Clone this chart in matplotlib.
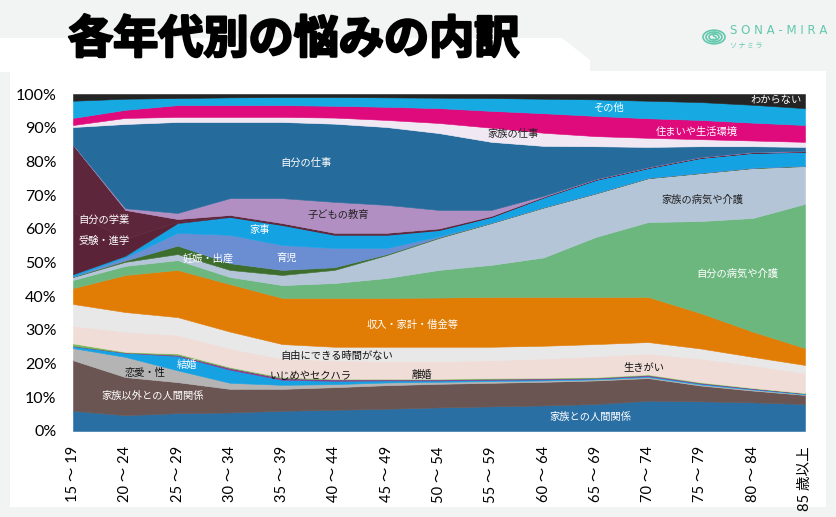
import matplotlib
matplotlib.use("Agg")
import matplotlib.pyplot as plt
from matplotlib.patches import Rectangle, Polygon, Circle
import matplotlib.patheffects as pe
import numpy as np

# ---------------- data (percent of respondents, by age group) ----------------
ages = ["15 ～ 19", "20 ～ 24", "25 ～ 29", "30 ～ 34", "35 ～ 39", "40 ～ 44", "45 ～ 49",
        "50 ～ 54", "55 ～ 59", "60 ～ 64", "65 ～ 69", "70 ～ 74", "75 ～ 79", "80 ～ 84", "85 歳以上"]

family_rel     = [6.0, 4.7, 5.3, 5.5, 6.0, 6.3, 6.6, 7.0, 7.3, 7.6, 8.0, 9.0, 8.8, 8.5, 8.0]
other_rel      = [15.0, 11.3, 9.2, 7.0, 6.5, 6.7, 7.0, 7.0, 7.0, 7.0, 7.0, 6.7, 4.7, 3.5, 2.7]
love           = [3.6, 6.0, 3.5, 1.8, 1.2, 0.9, 0.8, 0.6, 0.5, 0.4, 0.3, 0.3, 0.3, 0.3, 0.2]
marriage       = [0.6, 1.2, 4.3, 3.9, 1.5, 1.0, 0.6, 0.4, 0.4, 0.3, 0.3, 0.3, 0.3, 0.2, 0.2]
divorce        = [0.1, 0.1, 0.3, 0.5, 0.5, 0.4, 0.3, 0.3, 0.3, 0.3, 0.2, 0.3, 0.2, 0.2, 0.1]
bullying       = [0.7, 0.2, 0.4, 0.3, 0.3, 0.2, 0.2, 0.2, 0.2, 0.2, 0.2, 0.2, 0.2, 0.1, 0.1]
purpose        = [5.2, 6.0, 5.5, 5.5, 5.5, 5.5, 5.2, 5.2, 5.3, 5.7, 6.2, 6.2, 7.0, 6.7, 5.9]
no_time        = [6.5, 5.8, 5.3, 5.0, 4.3, 4.0, 4.3, 4.3, 4.0, 3.8, 3.6, 3.4, 3.0, 2.5, 2.4]
income         = [4.7, 11.0, 14.0, 14.1, 13.7, 14.5, 14.5, 14.6, 14.8, 14.5, 14.0, 13.4, 10.5, 7.5, 5.0]
own_health     = [2.4, 2.7, 2.9, 2.1, 3.8, 4.4, 5.9, 8.2, 9.5, 11.7, 17.8, 22.2, 27.3, 33.7, 42.8]
family_health  = [0.9, 1.2, 1.8, 2.1, 3.0, 3.9, 6.8, 9.5, 12.4, 14.8, 12.9, 13.0, 14.2, 14.8, 11.2]
pregnancy      = [0.1, 0.4, 2.5, 2.0, 1.5, 0.8, 0.3, 0.2, 0.1, 0.1, 0.1, 0.1, 0.1, 0.1, 0.1]
childcare      = [0.1, 0.9, 3.8, 8.4, 7.4, 5.7, 1.8, 0.3, 0.1, 0.1, 0.1, 0.1, 0.1, 0.1, 0.1]
housework      = [0.6, 0.5, 2.9, 5.3, 5.9, 3.9, 3.9, 1.8, 1.6, 2.8, 3.8, 2.8, 4.3, 4.3, 4.0]
exams          = [18.5, 5.0, 0.4, 0.2, 0.2, 0.2, 0.2, 0.2, 0.1, 0.1, 0.1, 0.1, 0.1, 0.1, 0.1]
study          = [19.9, 8.6, 0.8, 0.4, 0.4, 0.4, 0.4, 0.3, 0.2, 0.1, 0.1, 0.1, 0.1, 0.1, 0.1]
child_edu      = [0.1, 0.5, 1.8, 5.0, 7.4, 9.2, 8.3, 5.5, 1.8, 0.3, 0.1, 0.1, 0.1, 0.1, 0.1]
own_work       = [5.2, 25.0, 27.0, 22.6, 22.6, 23.2, 23.1, 22.8, 20.2, 14.8, 9.7, 6.0, 3.2, 1.7, 1.2]
family_work    = [0.6, 1.8, 1.5, 1.5, 1.5, 1.8, 2.1, 3.0, 4.2, 3.9, 3.0, 2.7, 2.1, 1.7, 1.5]
housing        = [2.1, 2.4, 3.5, 3.5, 3.5, 3.5, 3.9, 4.4, 5.0, 5.8, 6.0, 5.8, 5.7, 5.3, 5.0]
other          = [5.1, 3.3, 2.1, 2.3, 2.4, 2.6, 2.8, 3.1, 3.8, 4.3, 4.9, 5.2, 5.3, 5.3, 5.0]
unknown        = [2.0, 1.4, 1.2, 1.0, 0.9, 0.9, 1.0, 1.1, 1.2, 1.4, 1.6, 2.0, 2.4, 3.2, 4.2]

series = [family_rel, other_rel, love, marriage, divorce, bullying, purpose, no_time, income,
          own_health, family_health, pregnancy, childcare, housework, exams, study, child_edu,
          own_work, family_work, housing, other, unknown]

# ---------------- styles ----------------
colors = ["#2a6fa4", "#6a5552", "#b4b4b4", "#16a1e2", "#8b3a8e", "#79bd5a", "#f1ddd7", "#e8e8e8",
          "#e17c05", "#6cb77e", "#b5c5d8", "#3e6e2e", "#6b8ed2", "#15a2e2", "#5a2338", "#5d263b",
          "#b18fc2", "#256c9c", "#f0e9f4", "#df0a7c", "#17a9e1", "#242424"]

W, H = 836, 517
CJK = ["Noto Sans CJK JP", "DejaVu Sans"]

fig = plt.figure(figsize=(W / 100, H / 100), dpi=100)
fig.patch.set_facecolor("#f2f3f3")

def fx(px):
    return px / W

def fy(py):
    return 1 - py / H

# white title banner and white panel
fig.add_artist(Polygon([(fx(0), fy(38)), (fx(562), fy(38)), (fx(590), fy(60)), (fx(590), fy(72)),
                        (fx(0), fy(72))], closed=True, transform=fig.transFigure,
                       facecolor="white", edgecolor="none", zorder=0))
fig.add_artist(Rectangle((fx(10), fy(507)), fx(826) - fx(10), fy(71) - fy(507),
                         transform=fig.transFigure, facecolor="white", edgecolor="none", zorder=0))

# title
fig.text(fx(68), fy(40), "各年代別の悩みの内訳", fontsize=32.5, fontweight="bold", family=CJK,
         color="black", va="center", ha="left",
         path_effects=[pe.withStroke(linewidth=1.8, foreground="black")])

# logo
teal = "#62c8ad"
for r in (11, 8, 5):
    fig.add_artist(Circle((fx(714), fy(37)), r / W, transform=fig.transFigure, facecolor="none",
                          edgecolor=teal, linewidth=1.2))
fig.text(fx(714), fy(38), "S", fontsize=5.5, color=teal, ha="center", va="center", fontweight="bold")
fig.text(fx(730), fy(31), "S O N A - M I R A", fontsize=8.5, color=teal, ha="left", va="center",
         family="DejaVu Sans")
fig.text(fx(730), fy(46), "ソ ナ ミ ラ", fontsize=5, color=teal, ha="left", va="center", family=CJK)

# axes
ax = fig.add_axes([fx(73), fy(431), fx(805) - fx(73), fy(94) - fy(431)])
x = np.arange(len(ages))
polys = ax.stackplot(x, *series, colors=colors)
for p, c in zip(polys, colors):
    p.set_edgecolor(c)
    p.set_linewidth(0.4)

ax.set_xlim(0, len(ages) - 1)
ax.set_ylim(0, 100)
for s in ax.spines.values():
    s.set_visible(False)
ax.set_facecolor("white")
ax.set_yticks(range(0, 101, 10))
ax.set_yticklabels([f"{v}%" for v in range(0, 101, 10)], fontsize=11.5, family=["Lato", "DejaVu Sans"])
ax.set_xticks(x)
ax.set_xticklabels(ages, rotation=90, fontsize=10.5, family=["Lato", "Noto Sans CJK JP"])
ax.tick_params(axis="y", length=0, pad=12)
ax.tick_params(axis="x", length=0, pad=11)
for lab in ax.get_xticklabels():
    lab.set_va("top")

# in-chart labels: (text, x, y, color, ha)
labels = [
    ("わからない", 13.45, 98.2, "white", "center"),
    ("その他", 10.25, 95.8, "white", "center"),
    ("住まいや生活環境", 11.93, 88.7, "white", "center"),
    ("家族の仕事", 8.41, 88.1, "#222222", "center"),
    ("自分の仕事", 4.46, 79.5, "white", "center"),
    ("家族の病気や介護", 12.03, 68.5, "#222222", "center"),
    ("子どもの教育", 5.07, 64.1, "#222222", "center"),
    ("自分の学業", 0.1, 62.6, "white", "left"),
    ("受験・進学", 0.1, 56.4, "white", "left"),
    ("家事", 3.58, 59.6, "white", "center"),
    ("妊娠・出産", 2.58, 51.3, "white", "center"),
    ("育児", 4.09, 51.3, "white", "center"),
    ("自分の病気や介護", 12.70, 46.6, "white", "center"),
    ("収入・家計・借金等", 6.5, 31.5, "white", "center"),
    ("自由にできる時間がない", 5.05, 22.3, "#111111", "center"),
    ("生きがい", 10.92, 19.0, "#111111", "center"),
    ("恋愛・性", 1.38, 17.2, "#111111", "center"),
    ("結婚", 2.18, 19.6, "white", "center"),
    ("いじめやセクハラ", 4.55, 16.3, "#111111", "center"),
    ("離婚", 6.67, 16.6, "#111111", "center"),
    ("家族以外との人間関係", 1.53, 10.4, "white", "center"),
    ("家族との人間関係", 9.89, 4.2, "white", "center"),
]
for t, lx, ly, c, ha in labels:
    ax.text(lx, ly, t, color=c, fontsize=7.4, ha=ha, va="center", family=CJK)

fig.savefig("out.png", dpi=100, facecolor=fig.get_facecolor())
